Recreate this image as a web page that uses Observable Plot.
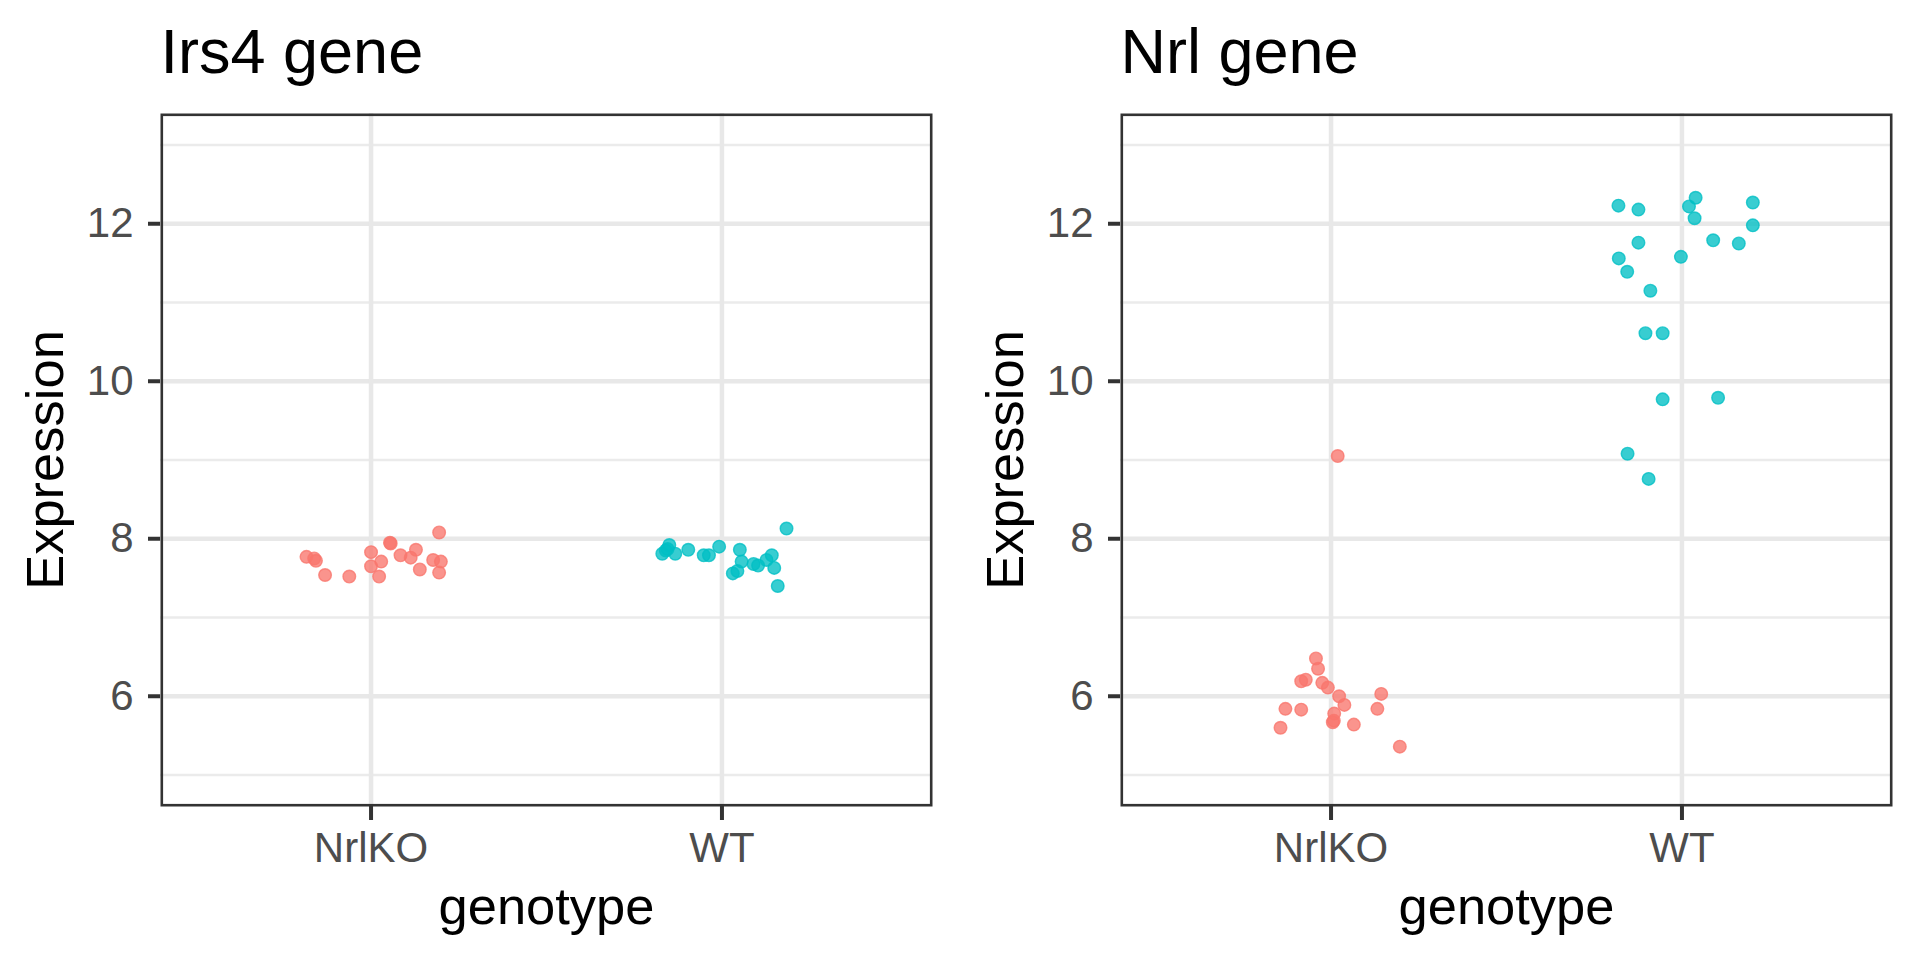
<!DOCTYPE html>
<html>
<head>
<meta charset="utf-8">
<script src="https://cdn.jsdelivr.net/npm/d3@7"></script>
<script src="https://cdn.jsdelivr.net/npm/@observablehq/plot@0.6"></script>
<style>
  html, body { margin: 0; padding: 0; background: #fff; }
  #wrap { display: flex; width: 1920px; height: 960px; }
  #wrap > * { flex: none; }
</style>
</head>
<body>
<div id="wrap"></div>
<script>
// ---- data ----
const genotypes = ["NrlKO", "WT"];
const yTicks = [6, 8, 10, 12];
const yMinor = [5, 7, 9, 11, 13];
const yDomain = [4.6, 13.4];
const colors = ["#F8766D", "#00BFC4"];

// Irs4 gene
const irs4KOExpr   = [7.77, 7.75, 7.72, 7.54, 7.52, 7.83, 7.65, 7.52, 7.71, 7.95, 7.94, 7.79, 7.76, 7.86, 7.61, 7.73, 8.08, 7.71, 7.57];
const irs4KOJitter = [-0.184, -0.162, -0.157, -0.131, -0.062, 0.000, 0.000, 0.023, 0.029, 0.054, 0.056, 0.084, 0.113, 0.128, 0.139, 0.177, 0.194, 0.199, 0.194];
const irs4WTExpr   = [7.81, 7.85, 7.92, 7.81, 7.86, 7.79, 7.79, 7.90, 7.56, 7.59, 7.86, 7.71, 7.68, 7.66, 7.73, 7.79, 7.63, 7.40, 8.13, 7.87];
const irs4WTJitter = [-0.170, -0.160, -0.150, -0.133, -0.096, -0.052, -0.037, -0.008, 0.031, 0.044, 0.051, 0.056, 0.090, 0.103, 0.127, 0.142, 0.149, 0.159, 0.184, -0.155];

// Nrl gene
const nrlKOExpr   = [9.05, 6.48, 6.35, 6.19, 6.21, 6.17, 6.11, 6.00, 5.89, 6.03, 5.84, 5.84, 5.83, 5.78, 5.67, 5.69, 5.64, 5.60, 5.36];
const nrlKOJitter = [0.019, -0.043, -0.037, -0.085, -0.072, -0.025, -0.009, 0.023, 0.038, 0.143, 0.132, -0.130, -0.085, 0.009, 0.005, 0.008, 0.065, -0.144, 0.196];
const nrlWTExpr   = [12.23, 12.18, 12.33, 12.22, 12.07, 12.27, 11.98, 11.76, 11.79, 11.75, 11.56, 11.58, 11.39, 11.15, 10.61, 10.61, 9.77, 9.79, 9.08, 8.76];
const nrlWTJitter = [-0.181, -0.124, 0.039, 0.020, 0.036, 0.202, 0.202, -0.124, 0.089, 0.162, -0.180, -0.003, -0.156, -0.090, -0.104, -0.055, -0.055, 0.103, -0.155, -0.095];

const panels = [
  { title: "Irs4 gene", ko: [irs4KOExpr, irs4KOJitter], wt: [irs4WTExpr, irs4WTJitter] },
  { title: "Nrl gene",  ko: [nrlKOExpr, nrlKOJitter],   wt: [nrlWTExpr, nrlWTJitter] }
];

function rows(p) {
  const out = [];
  p.ko[0].forEach((v, i) => out.push({ genotype: genotypes[0], expression: v, jitter: p.ko[1][i] }));
  p.wt[0].forEach((v, i) => out.push({ genotype: genotypes[1], expression: v, jitter: p.wt[1][i] }));
  return out;
}

const FONT = "'Liberation Sans', Arial, Helvetica, sans-serif";

for (const p of panels) {
  const data = rows(p);
  const chart = Plot.plot({
    width: 960,
    height: 960,
    marginLeft: 160,
    marginRight: 28,
    marginTop: 113,
    marginBottom: 154,
    style: { fontFamily: FONT, fontSize: "42px", background: "white", overflow: "visible" },
    x: { domain: [0.4, 2.6], axis: null },
    y: { domain: yDomain, axis: null },
    color: { domain: genotypes, range: colors },
    marks: [
      Plot.ruleY(yMinor, { stroke: "#EBEBEB", strokeWidth: 2.3 }),
      Plot.ruleY(yTicks, { stroke: "#E8E8E8", strokeWidth: 4.5 }),
      Plot.ruleX([1, 2], { stroke: "#E8E8E8", strokeWidth: 4.5 }),
      Plot.dot(data, {
        x: d => genotypes.indexOf(d.genotype) + 1 + d.jitter,
        y: "expression",
        r: 6.3,
        fill: "genotype",
        stroke: "genotype",
        fillOpacity: 0.78,
        strokeOpacity: 0.78,
        strokeWidth: 1.4
      }),
      Plot.frame({ stroke: "#333333", strokeWidth: 2.6, inset: 1.3 }),
      Plot.axisY({
        ticks: yTicks, tickSize: 12, tickPadding: 15, label: null,
        stroke: "#333333", strokeWidth: 4, fill: "#4D4D4D", fontSize: 42
      }),
      Plot.axisX({
        ticks: [1, 2], tickFormat: i => genotypes[i - 1], tickSize: 14, tickPadding: 12, label: null,
        stroke: "#333333", strokeWidth: 4, fill: "#4D4D4D", fontSize: 42
      }),
      Plot.text([p.title], {
        text: d => d, frameAnchor: "top-left", dy: -41, lineAnchor: "bottom",
        textAnchor: "start", fontSize: 63, fill: "black"
      }),
      Plot.text(["Expression"], {
        text: d => d, frameAnchor: "left", dx: -114, rotate: -90,
        lineAnchor: "middle", textAnchor: "middle", fontSize: 52.5, fill: "black"
      }),
      Plot.text(["genotype"], {
        text: d => d, frameAnchor: "bottom", dy: 117, lineAnchor: "bottom",
        textAnchor: "middle", fontSize: 52.5, fill: "black"
      })
    ]
  });
  document.getElementById("wrap").appendChild(chart);
}
</script>
</body>
</html>
